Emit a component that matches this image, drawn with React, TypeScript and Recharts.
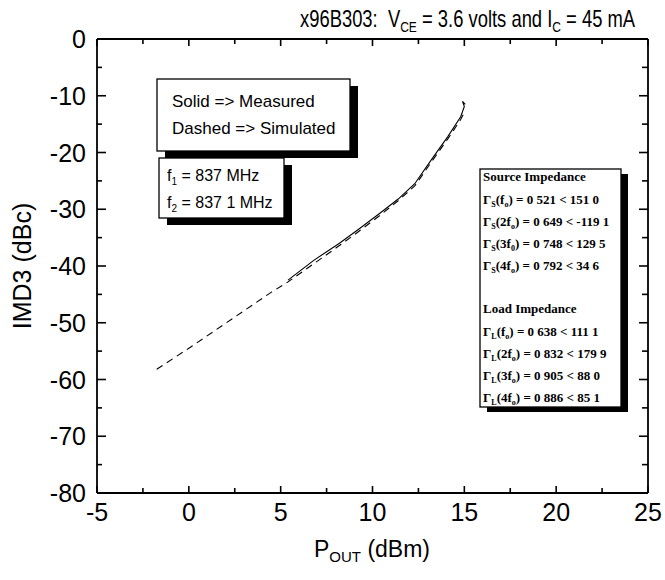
import React from "react";
import { LineChart, Line, XAxis, YAxis } from "recharts";

// Simulated (dashed) IMD3 vs Pout
const simulatedPout = [-1.75, 0, 1.5, 3, 4.5, 5.4, 6.8, 8.2, 9.3, 10.4, 11.4, 12.3, 13.2, 14.1, 14.8, 15.05];
const simulatedImd3 = [-58.2, -54.5, -51.2, -47.9, -44.6, -42.8, -39.6, -36.4, -33.8, -31.1, -28.5, -25.9, -21.7, -17.6, -14.2, -12.6];

// Measured (solid) IMD3 vs Pout
const measuredPout = [5.4, 6.8, 8.2, 9.3, 10.4, 11.4, 12.3, 13.2, 14.1, 14.8, 15.0, 14.9, 15.05];
const measuredImd3 = [-42.5, -39.0, -36.0, -33.4, -30.7, -28.2, -25.5, -21.3, -17.2, -13.7, -11.9, -11.0, -11.5];

const xTicks = [-5, -2.5, 0, 2.5, 5, 7.5, 10, 12.5, 15, 17.5, 20, 22.5, 25];
const yTicks = [0, -5, -10, -15, -20, -25, -30, -35, -40, -45, -50, -55, -60, -65, -70, -75, -80];

const legendLines = ["Solid => Measured", "Dashed => Simulated"];
const freqLines = [
  { sub: "1", text: " = 837 MHz" },
  { sub: "2", text: " = 837 1 MHz" },
];
const sourceRows = [
  { sub: "S", arg: "f", argSub: "o", val: " = 0 521 < 151 0" },
  { sub: "S", arg: "2f", argSub: "o", val: " = 0 649 < -119 1" },
  { sub: "S", arg: "3f", argSub: "0", val: " = 0 748 < 129 5" },
  { sub: "S", arg: "4f", argSub: "o", val: " = 0 792 < 34 6" },
];
const loadRows = [
  { sub: "L", arg: "f", argSub: "o", val: " = 0 638 < 111 1" },
  { sub: "L", arg: "2f", argSub: "o", val: " = 0 832 < 179 9" },
  { sub: "L", arg: "3f", argSub: "o", val: " = 0 905 < 88 0" },
  { sub: "L", arg: "4f", argSub: "o", val: " = 0 886 < 85 1" },
];

const simulated = simulatedPout.map((x, i) => ({ x, y: simulatedImd3[i] }));
const measured = measuredPout.map((x, i) => ({ x, y: measuredImd3[i] }));

const SANS = "'Liberation Sans', Arial, Helvetica, sans-serif";
const SERIF = "'Liberation Serif', 'Times New Roman', serif";
const TICK_FS = 25;

const BottomTick = (props: any) => {
  const { x, y, payload } = props;
  const v = payload.value;
  const major = v % 5 === 0;
  return (
    <g>
      <line x1={x} x2={x} y1={y} y2={y - (major ? 7 : 5)} stroke="#000" strokeWidth={1.6} />
      {major && (
        <text x={x} y={y + 28} textAnchor="middle" fontSize={TICK_FS} fontFamily={SANS} fill="#000">
          {v}
        </text>
      )}
    </g>
  );
};

const TopTick = (props: any) => {
  const { x, y, payload } = props;
  const major = payload.value % 5 === 0;
  return <line x1={x} x2={x} y1={y} y2={y + (major ? 7 : 5)} stroke="#000" strokeWidth={1.6} />;
};

const LeftTick = (props: any) => {
  const { x, y, payload } = props;
  const v = payload.value;
  const major = v % 10 === 0;
  return (
    <g>
      <line x1={x} x2={x + (major ? 9 : 5)} y1={y} y2={y} stroke="#000" strokeWidth={1.6} />
      {major && (
        <text x={x - 11} y={y + 9} textAnchor="end" fontSize={TICK_FS} fontFamily={SANS} fill="#000">
          {v}
        </text>
      )}
    </g>
  );
};

const RightTick = (props: any) => {
  const { x, y, payload } = props;
  const major = payload.value % 10 === 0;
  return <line x1={x} x2={x - (major ? 9 : 6)} y1={y} y2={y} stroke="#000" strokeWidth={1.6} />;
};

const Box = ({ x, y, w, h, sx, sy }: { x: number; y: number; w: number; h: number; sx: number; sy: number }) => (
  <g>
    <rect x={x + sx} y={y + sy} width={w} height={h} fill="#000" />
    <rect x={x} y={y} width={w} height={h} fill="#fff" stroke="#000" strokeWidth={1.3} />
  </g>
);

const GammaRow = ({ row, x, y }: { row: any; x: number; y: number }) => (
  <text x={x} y={y} fontFamily={SERIF} fontSize={13} fontWeight="bold" fill="#000">
    Γ
    <tspan fontSize={8} dy={3}>{row.sub}</tspan>
    <tspan dy={-3}>({row.arg}</tspan>
    <tspan fontSize={8} dy={3}>{row.argSub}</tspan>
    <tspan dy={-3}>){row.val}</tspan>
  </text>
);

const Overlay = () => (
  <svg
    width={665}
    height={580}
    style={{ position: "absolute", left: 0, top: 0, pointerEvents: "none" }}
  >
    {/* title */}
    <text transform="translate(300,27) scale(0.8,1)" x={0} y={0} fontFamily={SANS} fontSize={23} fill="#000">
      x96B303:{"\u00a0\u00a0"}V
      <tspan fontSize={15} dy={5}>CE</tspan>
      <tspan dy={-5}> = 3.6 volts and I</tspan>
      <tspan fontSize={15} dy={5}>C</tspan>
      <tspan dy={-5}> = 45 mA</tspan>
    </text>
    {/* y label */}
    <text
      x={0}
      y={0}
      transform="translate(31,266) rotate(-90)"
      textAnchor="middle"
      fontFamily={SANS}
      fontSize={25}
      fill="#000"
    >
      IMD3 (dBc)
    </text>
    {/* x label */}
    <text x={372} y={557} textAnchor="middle" fontFamily={SANS} fontSize={23} fill="#000">
      P<tspan fontSize={15} dy={5}>OUT</tspan>
      <tspan dy={-5}> (dBm)</tspan>
    </text>

    {/* legend box */}
    <Box x={157} y={79} w={193} h={72} sx={8} sy={7} />
    {legendLines.map((t, i) => (
      <text key={t} x={172} y={107 + i * 27} fontFamily={SANS} fontSize={17} fill="#000">
        {t}
      </text>
    ))}
    <Box x={159} y={158} w={125} h={60} sx={8} sy={7} />
    {freqLines.map((f, i) => (
      <text key={i} x={167} y={181 + i * 27} fontFamily={SANS} fontSize={16} fill="#000">
        f<tspan fontSize={10} dy={4}>{f.sub}</tspan>
        <tspan dy={-4}>{f.text}</tspan>
      </text>
    ))}

    {/* impedance box */}
    <Box x={480} y={169} w={141} h={238} sx={7} sy={5} />
    <text x={483} y={181} fontFamily={SERIF} fontSize={13} fontWeight="bold" fill="#000">
      Source Impedance
    </text>
    {sourceRows.map((r, i) => (
      <GammaRow key={"s" + i} row={r} x={483} y={203.5 + i * 22.3} />
    ))}
    <text x={483} y={313} fontFamily={SERIF} fontSize={13} fontWeight="bold" fill="#000">
      Load Impedance
    </text>
    {loadRows.map((r, i) => (
      <GammaRow key={"l" + i} row={r} x={483} y={335.5 + i * 22.3} />
    ))}
  </svg>
);

export default function App() {
  return (
    <div style={{ position: "absolute", left: 0, top: 0, width: 665, height: 580, background: "#fff" }}>
      <LineChart width={665} height={580} margin={{ top: 29, right: 7, bottom: 27, left: 37 }}>
        <XAxis
          dataKey="x"
          type="number"
          domain={[-5, 25]}
          ticks={xTicks}
          interval={0}
          height={60}
          tickSize={0}
          tickMargin={0}
          tickLine={false}
          tick={<BottomTick />}
          axisLine={{ stroke: "#000", strokeWidth: 1.8 }}
          allowDataOverflow
        />
        <XAxis
          xAxisId="top"
          orientation="top"
          dataKey="x"
          type="number"
          domain={[-5, 25]}
          ticks={xTicks}
          interval={0}
          height={10}
          tickSize={0}
          tickMargin={0}
          tickLine={false}
          tick={<TopTick />}
          axisLine={{ stroke: "#000", strokeWidth: 1.8 }}
          allowDataOverflow
        />
        <YAxis
          dataKey="y"
          type="number"
          domain={[-80, 0]}
          ticks={yTicks}
          interval={0}
          width={60}
          tickSize={0}
          tickMargin={0}
          tickLine={false}
          tick={<LeftTick />}
          axisLine={{ stroke: "#000", strokeWidth: 1.8 }}
          allowDataOverflow
        />
        <YAxis
          yAxisId="right"
          orientation="right"
          dataKey="y"
          type="number"
          domain={[-80, 0]}
          ticks={yTicks}
          interval={0}
          width={10}
          tickSize={0}
          tickMargin={0}
          tickLine={false}
          tick={<RightTick />}
          axisLine={{ stroke: "#000", strokeWidth: 1.8 }}
          allowDataOverflow
        />
        <Line
          data={simulated}
          dataKey="y"
          type="linear"
          stroke="#000"
          strokeWidth={1.1}
          strokeDasharray="7 5"
          dot={false}
          isAnimationActive={false}
        />
        <Line
          data={measured}
          dataKey="y"
          type="linear"
          stroke="#000"
          strokeWidth={1.1}
          dot={false}
          isAnimationActive={false}
        />
      </LineChart>
      <Overlay />
    </div>
  );
}
